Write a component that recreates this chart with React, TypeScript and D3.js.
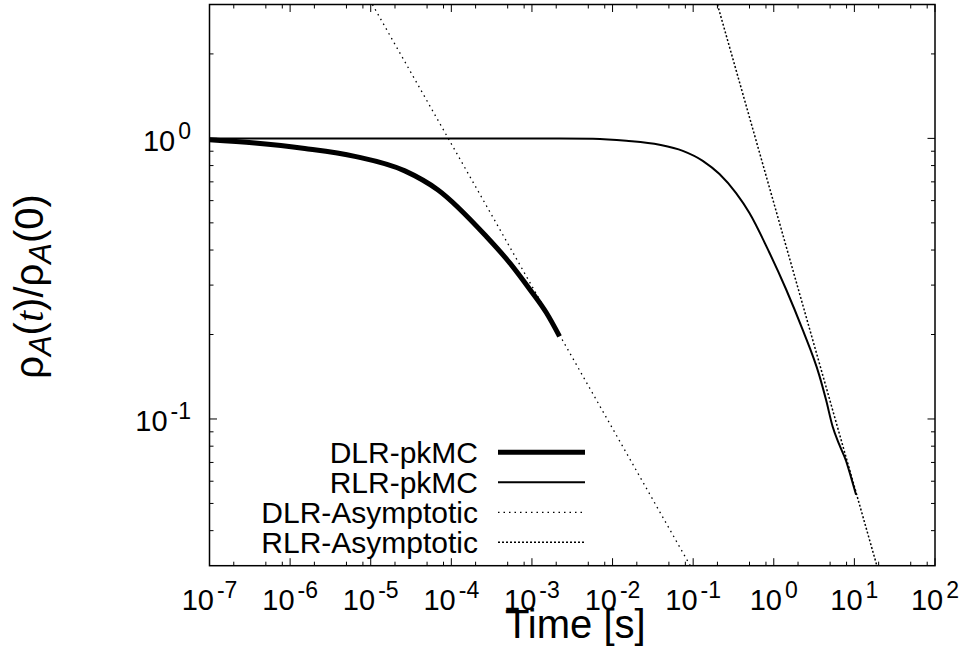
import React from 'react';
import * as d3 from 'd3';

const W = 960;
const H = 663;
const M = { left: 209.5, right: 935, top: 4.5, bottom: 565.7 };

const xDomain: [number, number] = [1e-7, 1e2];
const yDomain: [number, number] = [0.03, 3];
const xMajorExps = [-7, -6, -5, -4, -3, -2, -1, 0, 1, 2];
const yMajorExps = [-1, 0];
const xMinorMultipliers = [2, 5, 8];
const yMinorMultipliers = [2, 3, 4, 5, 6, 7, 8, 9];

// DLR-pkMC (thick)
const dlrTime = [1e-7, 3.66e-7, 1.52e-6, 6.35e-6, 2.65e-5, 6.84e-5, 2.72e-4, 5.3e-4, 9.38e-4, 1.51e-3, 2.2e-3];
const dlrRho = [0.988, 0.962, 0.92, 0.863, 0.766, 0.655, 0.447, 0.36, 0.29, 0.239, 0.197];

// RLR-pkMC (thin)
const rlrTime = [1e-7, 2.2e-3, 5.7e-3, 0.0148, 0.0382, 0.0743, 0.1315, 0.212, 0.341, 0.499, 0.881, 1.42, 2.28, 3.67, 4.45, 5.37, 6.5, 7.87, 9.08, 10.5];
const rlrRho = [1.0, 1.0, 0.997, 0.98, 0.949, 0.903, 0.832, 0.746, 0.638, 0.542, 0.392, 0.29, 0.208, 0.143, 0.117, 0.094, 0.081, 0.071, 0.062, 0.0537];

// Asymptotes (end points)
const dlrAsymTime = [1.05e-5, 0.092];
const dlrAsymRho = [3.0, 0.03];
const rlrAsymTime = [0.2, 19.0];
const rlrAsymRho = [3.0, 0.03];

const legendLabels = ['DLR-pkMC', 'RLR-pkMC', 'DLR-Asymptotic', 'RLR-Asymptotic'];

const FONT = "'Liberation Sans', Arial, Helvetica, sans-serif";

export default function App() {
  const x = d3.scaleLog().domain(xDomain).range([M.left, M.right]);
  const y = d3.scaleLog().domain(yDomain).range([M.bottom, M.top]);

  const zip = (ts: number[], rs: number[]) => ts.map((t, i) => [t, rs[i]] as [number, number]);
  const smooth = d3
    .line<[number, number]>()
    .x((d) => x(d[0]))
    .y((d) => y(d[1]))
    .curve(d3.curveMonotoneX);
  const straight = d3
    .line<[number, number]>()
    .x((d) => x(d[0]))
    .y((d) => y(d[1]));

  const xMajor = xMajorExps.map((e) => Math.pow(10, e));
  const xMinor: number[] = [];
  xMajorExps.forEach((e) =>
    xMinorMultipliers.forEach((m) => {
      const v = m * Math.pow(10, e);
      if (v > xDomain[0] && v < xDomain[1]) xMinor.push(v);
    })
  );
  const yMinor: number[] = [];
  [-2, -1, 0].forEach((e) =>
    yMinorMultipliers.forEach((m) => {
      const v = m * Math.pow(10, e);
      if (v > yDomain[0] * 1.001 && v < yDomain[1] * 0.999) yMinor.push(v);
    })
  );

  const majLen = 7.5;
  const minLen = 4;

  const legendRows = [0, 1, 2, 3];
  const legendY0 = 452.3;
  const legendDy = 30;
  const styles = [
    { w: 5, dash: undefined as string | undefined },
    { w: 2, dash: undefined as string | undefined },
    { w: 1.3, dash: '1.5,4' },
    { w: 1.5, dash: '2,2' },
  ];

  return (
    <svg
      width={W}
      height={H}
      style={{ position: 'absolute', left: 0, top: 0, background: '#fff' }}
      fontFamily={FONT}
    >
      <defs>
        <clipPath id="plotclip">
          <rect x={M.left} y={M.top} width={M.right - M.left} height={M.bottom - M.top} />
        </clipPath>
      </defs>
      <rect x={0} y={0} width={W} height={H} fill="#fff" />

      {/* ticks */}
      <g stroke="#000" strokeWidth={1}>
        {xMajor.map((v, i) => (
          <g key={'xm' + i}>
            <line x1={x(v)} x2={x(v)} y1={M.bottom} y2={M.bottom - majLen} />
            <line x1={x(v)} x2={x(v)} y1={M.top} y2={M.top + majLen} />
          </g>
        ))}
        {xMinor.map((v, i) => (
          <g key={'xn' + i}>
            <line x1={x(v)} x2={x(v)} y1={M.bottom} y2={M.bottom - minLen} />
            <line x1={x(v)} x2={x(v)} y1={M.top} y2={M.top + minLen} />
          </g>
        ))}
        {yMajorExps.map((e, i) => {
          const yy = y(Math.pow(10, e));
          return (
            <g key={'ym' + i}>
              <line x1={M.left} x2={M.left + majLen} y1={yy} y2={yy} />
              <line x1={M.right} x2={M.right - majLen} y1={yy} y2={yy} />
            </g>
          );
        })}
        {yMinor.map((v, i) => (
          <g key={'yn' + i}>
            <line x1={M.left} x2={M.left + minLen} y1={y(v)} y2={y(v)} />
            <line x1={M.right} x2={M.right - minLen} y1={y(v)} y2={y(v)} />
          </g>
        ))}
      </g>

      {/* tick labels */}
      <g fontSize={29} fill="#000">
        {xMajorExps.map((e, i) => (
          <text key={'xl' + i} x={x(Math.pow(10, e))} y={610} textAnchor="middle">
            <tspan>10</tspan>
            <tspan dx={3} dy={-12} fontSize={23}>
              {String(e)}
            </tspan>
          </text>
        ))}
        {yMajorExps.map((e, i) => (
          <text key={'yl' + i} x={191} y={y(Math.pow(10, e)) + 12.5} textAnchor="end">
            <tspan>10</tspan>
            <tspan dx={3} dy={-12} fontSize={23}>
              {String(e)}
            </tspan>
          </text>
        ))}
      </g>

      {/* axis titles */}
      <text x={(M.left + M.right) / 2 + 3} y={638} textAnchor="middle" fontSize={40}>
        Time [s]
      </text>
      <text transform="translate(43,286.5) rotate(-90)" textAnchor="middle" fontSize={40}>
        <tspan>ρ</tspan>
        <tspan dy={8} fontSize={31} fontStyle="italic">A</tspan>
        <tspan dy={-8}>(</tspan>
        <tspan fontFamily="'Liberation Serif', 'Times New Roman', serif" fontStyle="italic">t</tspan>
        <tspan>)/ρ</tspan>
        <tspan dy={8} fontSize={31} fontStyle="italic">A</tspan>
        <tspan dy={-8}>(0)</tspan>
      </text>

      {/* data */}
      <g clipPath="url(#plotclip)" fill="none" stroke="#000">
        <path d={straight(zip(dlrAsymTime, dlrAsymRho)) || ''} strokeWidth={1.3} strokeDasharray="1.5,4" />
        <path d={straight(zip(rlrAsymTime, rlrAsymRho)) || ''} strokeWidth={1.5} strokeDasharray="2,2" />
        <path d={smooth(zip(rlrTime, rlrRho)) || ''} strokeWidth={2} strokeLinejoin="round" />
        <path d={smooth(zip(dlrTime, dlrRho)) || ''} strokeWidth={5} strokeLinejoin="round" />
      </g>

      {/* legend */}
      <g fontSize={30}>
        {legendRows.map((r) => {
          const cy = legendY0 + r * legendDy;
          return (
            <g key={'lg' + r}>
              <text x={478} y={cy + 10.6} textAnchor="end">
                {legendLabels[r]}
              </text>
              <line
                x1={498}
                x2={585}
                y1={cy}
                y2={cy}
                stroke="#000"
                strokeWidth={styles[r].w}
                strokeDasharray={styles[r].dash}
              />
            </g>
          );
        })}
      </g>

      {/* frame */}
      <rect
        x={M.left}
        y={M.top}
        width={M.right - M.left}
        height={M.bottom - M.top}
        fill="none"
        stroke="#000"
        strokeWidth={1.5}
      />
    </svg>
  );
}
